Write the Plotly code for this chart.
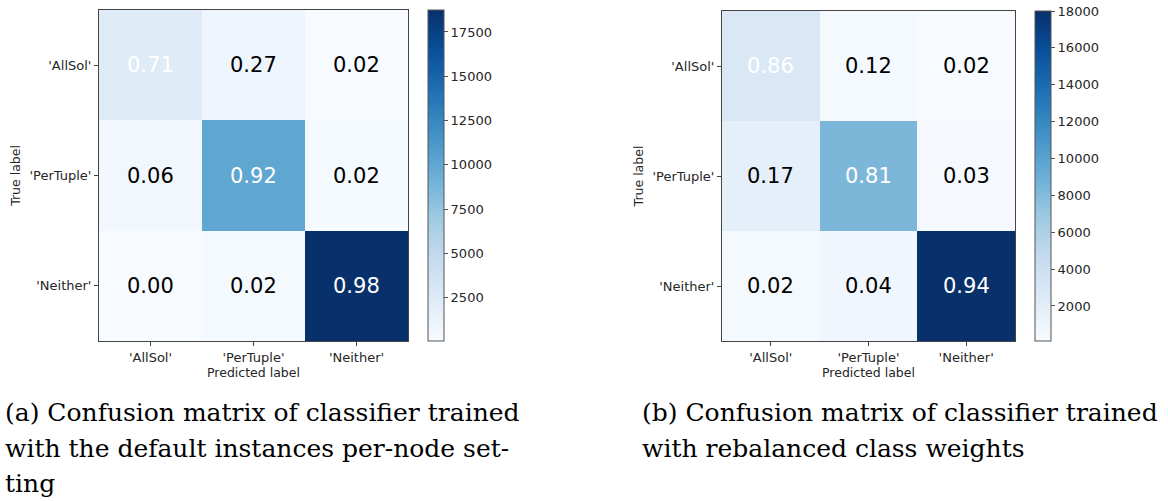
import plotly.graph_objects as go

labels = ["'AllSol'", "'PerTuple'", "'Neither'"]

# counts (colour) and normalized values (annotation), rows = true label
counts_a = [[2300, 870, 70],
            [660, 10100, 220],
            [60, 380, 18740]]
norm_a = [[0.71, 0.27, 0.02],
          [0.06, 0.92, 0.02],
          [0.00, 0.02, 0.98]]
cb_ticks_a = [2500, 5000, 7500, 10000, 12500, 15000, 17500]

counts_b = [[2700, 380, 100],
            [1740, 8300, 310],
            [380, 770, 18000]]
norm_b = [[0.86, 0.12, 0.02],
          [0.17, 0.81, 0.03],
          [0.02, 0.04, 0.94]]
cb_ticks_b = [2000, 4000, 6000, 8000, 10000, 12000, 14000, 16000, 18000]

captions_a = ["(a) Confusion matrix of classifier trained",
              "with the default instances per-node set-",
              "ting"]
captions_b = ["(b) Confusion matrix of classifier trained",
              "with rebalanced class weights"]

blues = [[0.0, "#f7fbff"], [0.125, "#deebf7"], [0.25, "#c6dbef"], [0.375, "#9ecae1"],
         [0.5, "#6baed6"], [0.625, "#4292c6"], [0.75, "#2171b5"], [0.875, "#08519c"],
         [1.0, "#08306b"]]

W, H = 1168, 501
fig = go.Figure()

panels = [
    dict(counts=counts_a, norm=norm_a, ticks=cb_ticks_a, xd=(99, 408), yd=(10, 341),
         cbx=428, xa="x", ya="y", xn="xaxis", yn="yaxis"),
    dict(counts=counts_b, norm=norm_b, ticks=cb_ticks_b, xd=(722, 1015), yd=(11, 341),
         cbx=1035, xa="x2", ya="y2", xn="xaxis2", yn="yaxis2"),
]

font_tick = dict(family="DejaVu Sans", size=13, color="#262626")
font_title = dict(family="DejaVu Sans", size=12.5, color="#262626")
layout_axes = {}
for p in panels:
    fig.add_trace(go.Heatmap(
        z=p["counts"], x=labels, y=labels, colorscale=blues,
        xaxis=p["xa"], yaxis=p["ya"], xgap=0, ygap=0,
        zmin=min(min(r) for r in p["counts"]), zmax=max(max(r) for r in p["counts"]),
        hoverinfo="skip",
        colorbar=dict(x=p["cbx"] / W, xanchor="left", xpad=0, ypad=0,
                      y=1 - p["yd"][0] / H, yanchor="top",
                      lenmode="pixels", len=p["yd"][1] - p["yd"][0],
                      thickness=16, outlinewidth=1, outlinecolor="#555",
                      tickvals=p["ticks"], tickformat="d", ticks="outside", ticklen=4,
                      tickcolor="#555", tickfont=font_tick),
    ))
    x0, x1 = p["xd"]
    y0, y1 = p["yd"]
    layout_axes[p["xn"]] = dict(domain=[x0 / W, x1 / W], anchor=p["ya"],
                                showline=True, mirror=True, linecolor="#444", linewidth=1,
                                ticks="outside", ticklen=4, tickcolor="#444",
                                tickfont=font_tick, showgrid=False, zeroline=False,
                                title=dict(text="Predicted label", standoff=1, font=font_title))
    layout_axes[p["yn"]] = dict(domain=[1 - y1 / H, 1 - y0 / H], anchor=p["xa"],
                                autorange="reversed",
                                showline=True, mirror=True, linecolor="#444", linewidth=1,
                                ticks="outside", ticklen=4, tickcolor="#444",
                                tickfont=font_tick, showgrid=False, zeroline=False,
                                title=dict(text="True label", standoff=6, font=font_title))

annotations = []
for p in panels:
    for i, row in enumerate(p["norm"]):
        for j, v in enumerate(row):
            annotations.append(dict(
                x=labels[j], y=labels[i], xref=p["xa"], yref=p["ya"],
                text=f"{v:.2f}", showarrow=False,
                font=dict(family="DejaVu Sans", size=21,
                          color="white" if i == j else "black")))

line_y = [412, 448, 483]
for x_left, lines in ((3, captions_a), (640, captions_b)):
    for k, line in enumerate(lines):
        annotations.append(dict(
            x=x_left / W, y=1 - line_y[k] / H, xref="paper", yref="paper",
            xanchor="left", yanchor="middle", align="left", showarrow=False,
            text=line, font=dict(family="DejaVu Serif", size=25, color="black")))

fig.update_layout(width=W, height=H, margin=dict(l=0, r=0, t=0, b=0),
                  paper_bgcolor="white", plot_bgcolor="white",
                  annotations=annotations, **layout_axes)

fig.write_html("out.html", config={"displayModeBar": False},
               post_script="document.body.style.margin='0';")
